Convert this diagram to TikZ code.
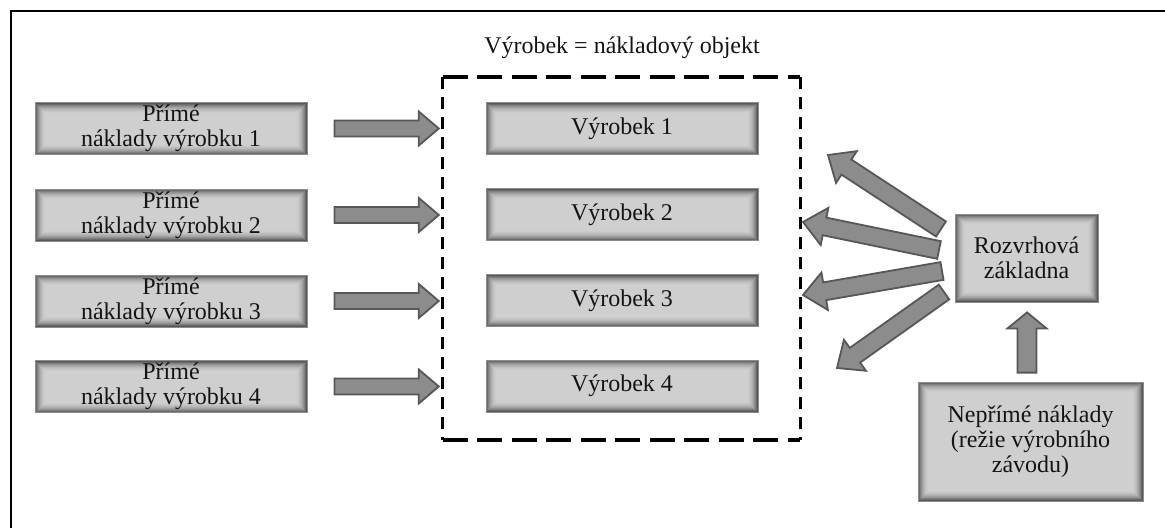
\documentclass[tikz,border=0pt]{standalone}
\usepackage{fontspec}
\setmainfont{Liberation Serif}
\usetikzlibrary{calc}
\newcommand\fatarrow[5]{%
  \draw[fatarr] ($(#1)!#3!90:(#2)$) -- ($(#2)!#5!(#1)!#3!90:(#2)$) -- ($(#2)!#5!(#1)!#4!90:(#2)$) -- (#2)
    -- ($(#2)!#5!(#1)!#4!-90:(#2)$) -- ($(#2)!#5!(#1)!#3!-90:(#2)$) -- ($(#1)!#3!-90:(#2)$) -- cycle;}
\begin{document}
\begin{tikzpicture}[x=1pt,y=-1pt,
  gbox/.style={rectangle, fill=black!19, draw=black!45, line width=0.8pt, inner sep=0pt,
    align=center, text=black!92, font=\fontsize{24}{25}\selectfont,
    path picture={
      \foreach \i/\cc in {1/66,2/58,3/50,4/43,5/37,6/32,7/28,8/25,9/22,10/20}{
        \draw[black!\cc, line width=1pt]
          ([xshift={\i*1pt-0.5pt}, yshift={\i*1pt-0.5pt}]path picture bounding box.south west)
          rectangle ([xshift={-\i*1pt+0.5pt}, yshift={-\i*1pt+0.5pt}]path picture bounding box.north east);
      }}},
  lbox/.style={gbox, minimum width=272pt, minimum height=52pt},
  fatarr/.style={fill=black!45, draw=black!66, line width=1.8pt, line join=miter},
  framebox/.style={minimum width=357pt, minimum height=363pt, inner sep=0pt},
  hdash/.style={draw=black, line width=3.5pt, dash pattern=on 25pt off 9.5pt},
  vdash/.style={draw=black, line width=3pt, dash pattern=on 12pt off 8pt},
  lbl/.style={font=\fontsize{24}{25}\selectfont, text=black!92, inner sep=0pt}
]
\useasboundingbox (0,0) rectangle (1165,528);
\draw[line width=2pt] (11,528) -- (11,11) -- (1165,11);

% left boxes
\node[lbox] (p1) at (171,128.5) {Přímé\\náklady výrobku 1};
\node[lbox] (p2) at (171,215) {Přímé\\náklady výrobku 2};
\node[lbox] (p3) at (171,301) {Přímé\\náklady výrobku 3};
\node[lbox] (p4) at (171,386.5) {Přímé\\náklady výrobku 4};

% dashed frame and title
\node[framebox] (frame) at (621.5,258.5) {};
\draw[hdash] (frame.north west) -- (frame.north east);
\draw[hdash] (frame.south west) -- (frame.south east);
\draw[vdash] (frame.north west) -- (frame.south west);
\draw[vdash] (frame.north east) -- (frame.south east);
\node[lbl] (title) at (622,48) {Výrobek = nákladový objekt};

% middle boxes
\node[lbox] (v1) at (622,128.5) {Výrobek 1};
\node[lbox] (v2) at (622,214.5) {Výrobek 2};
\node[lbox] (v3) at (622,300.5) {Výrobek 3};
\node[lbox] (v4) at (622,386) {Výrobek 4};

% right boxes
\node[gbox, minimum width=143pt, minimum height=88pt] (roz) at (1026.5,258) {Rozvrhová\\základna};
\node[gbox, minimum width=225pt, minimum height=119pt] (nep) at (1030.5,441.5) {Nepřímé náklady\\(režie výrobního\\závodu)};

% left arrows
\foreach \k in {1,2,3,4}{
  \coordinate (a\k s) at ($(p\k.east)+(27,0)$);
  \coordinate (a\k e) at ($(p\k.east -| frame.west)+(-4,0)$);
  \fatarrow{a\k s}{a\k e}{8pt}{17pt}{20pt}
}

% fan arrows
\coordinate (f1s) at (941,229); \coordinate (f1e) at (828,155);
\coordinate (f2s) at (939,250); \coordinate (f2e) at (803,222);
\coordinate (f3s) at (942,271); \coordinate (f3e) at (803,295);
\coordinate (f4s) at (944,292); \coordinate (f4e) at (837,368);
\foreach \k in {1,2,3,4}{
  \fatarrow{f\k s}{f\k e}{9pt}{19pt}{22pt}
}

% up arrow
\coordinate (us) at ($(nep.north)+(-3.5,-9)$);
\coordinate (ue) at ($(roz.south)+(0.5,10)$);
\fatarrow{us}{ue}{9.5pt}{19.5pt}{16pt}
\end{tikzpicture}
\end{document}
